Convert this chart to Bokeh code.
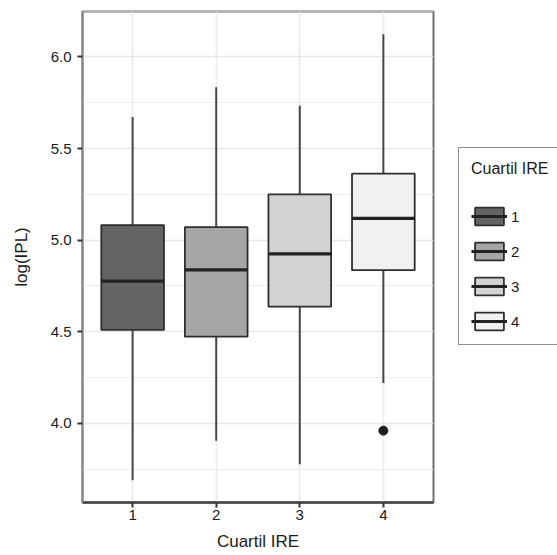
from bokeh.plotting import figure
from bokeh.models import (ColumnDataSource, Range1d, FixedTicker, Legend, LegendItem,
                          PrintfTickFormatter)
from bokeh.embed import file_html
from bokeh.resources import INLINE

# ---- data ----
categories = ["1", "2", "3", "4"]
lower_whisker = [3.689, 3.905, 3.777, 4.22]
q1 = [4.51, 4.473, 4.637, 4.836]
median = [4.776, 4.838, 4.925, 5.119]
q3 = [5.082, 5.071, 5.25, 5.363]
upper_whisker = [5.672, 5.835, 5.733, 6.124]
outlier_cat = ["4"]
outlier_val = [3.96]
fill_colors = ["#646464", "#a6a6a6", "#d2d2d2", "#f1f1f1"]
y_ticks = [4.0, 4.5, 5.0, 5.5, 6.0]
x_title = "Cuartil IRE"
y_title = "log(IPL)"
legend_title = "Cuartil IRE"

FONT = "Liberation Sans"
BOX_W = 0.75

pos = [i + 1 for i in range(len(categories))]
src = ColumnDataSource(dict(
    x=pos, cat=categories, lo=lower_whisker, q1=q1, med=median, q3=q3, hi=upper_whisker,
    x0=[p_ - BOX_W / 2 for p_ in pos], x1=[p_ + BOX_W / 2 for p_ in pos], fill=fill_colors,
))

p = figure(frame_width=351, frame_height=491, output_backend="svg", toolbar_location=None,
           x_range=Range1d(0.4, 4.6), y_range=Range1d(3.568, 6.248),
           min_border_left=82, min_border_right=124, min_border_top=11, min_border_bottom=53)
p.background_fill_color = "white"
p.border_fill_color = "white"
p.outline_line_color = "#707070"
p.outline_line_width = 2

# grid
minor = [t - 0.25 for t in y_ticks] + [y_ticks[-1] + 0.25]
p.yaxis.ticker = FixedTicker(ticks=y_ticks, minor_ticks=minor)
p.yaxis.formatter = PrintfTickFormatter(format="%.1f")
p.xaxis.ticker = FixedTicker(ticks=pos)
p.xaxis.major_label_overrides = {p_: c for p_, c in zip(pos, categories)}
p.ygrid.grid_line_color = "#e8e8e8"
p.ygrid.grid_line_width = 1.6
p.ygrid.minor_grid_line_color = "#efefef"
p.ygrid.minor_grid_line_width = 1.2
p.xgrid.grid_line_color = "#ebebeb"
p.xgrid.grid_line_width = 1.6

# axes
for ax in (p.xaxis[0], p.yaxis[0]):
    ax.major_tick_out = 5
    ax.major_tick_in = 0
    ax.minor_tick_line_color = None
    ax.major_tick_line_color = "#333333"
    ax.major_tick_line_width = 2
    ax.major_label_text_font = FONT
    ax.major_label_text_font_size = "15px"
    ax.major_label_text_color = "#1a1a1a"
    ax.axis_label_text_font = FONT
    ax.axis_label_text_font_size = "17px"
    ax.axis_label_text_font_style = "normal"
    ax.axis_label_text_color = "#1a1a1a"

p.xaxis.axis_label = x_title
p.yaxis.axis_label = y_title
p.xaxis.axis_line_color = "#454545"
p.xaxis.axis_line_width = 2.5
p.yaxis.axis_line_color = "#8a8a8a"
p.yaxis.axis_line_width = 2
p.xaxis.major_label_standoff = 2
p.xaxis.axis_label_standoff = 9
p.yaxis.major_label_standoff = 6
p.yaxis.axis_label_standoff = 17

# boxplots
p.segment(x0="x", y0="lo", x1="x", y1="hi", source=src, line_color="#474747", line_width=2)
box_r = p.quad(left="x0", right="x1", bottom="q1", top="q3", source=src,
               fill_color="fill", line_color="#2e2e2e", line_width=1.8)
med_r = p.segment(x0="x0", y0="med", x1="x1", y1="med", source=src,
                  line_color="#222222", line_width=3.2)
p.scatter(x=[pos[categories.index(c)] for c in outlier_cat], y=outlier_val,
          size=9, color="#1e1e1e")

# legend
items = [LegendItem(label=c, renderers=[box_r, med_r], index=i) for i, c in enumerate(categories)]
legend = Legend(items=items, location=(25, 157), title=legend_title,
                title_text_font=FONT, title_text_font_size="16px", title_text_font_style="normal",
                title_text_color="#1a1a1a", title_standoff=27,
                label_text_font=FONT, label_text_font_size="15px", label_text_color="#1a1a1a",
                glyph_width=36, glyph_height=22, spacing=13, padding=12, margin=0,
                label_standoff=4, border_line_color="#222222", border_line_width=1.5,
                background_fill_color="white", background_fill_alpha=1.0)
p.add_layout(legend, "right")

open("out.html", "w").write(file_html(p, INLINE))
